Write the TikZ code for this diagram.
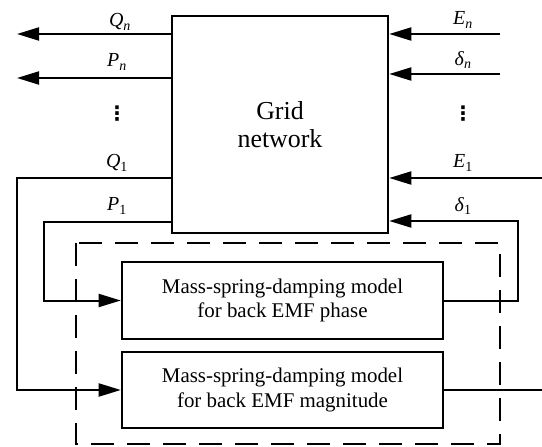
\documentclass[tikz,border=0pt]{standalone}
\usepackage{fontspec}
\setmainfont{Liberation Serif}
\newfontfamily\symfont{DejaVu Sans}
\usetikzlibrary{arrows.meta}

\tikzset{
  blk/.style={draw, line width=2.5bp, inner sep=0pt},
  sig/.style={line width=2bp, -{Triangle[length=22bp,width=13bp]}},
  fb/.style={line width=1.8bp},
  lbl/.style={font=\fontsize{20}{22}\selectfont, inner sep=0pt},
  dotsv/.style={font=\symfont\bfseries\fontsize{20}{22}\selectfont, inner sep=0pt},
  grp/.style={draw, line width=2.7bp, dash pattern=on 23bp off 13bp},
}
% italic symbol with a lowered index
\newcommand{\sig}[2]{\textit{#1}\textsubscript{#2}}

\begin{document}
\begin{tikzpicture}[x=1bp,y=-1bp]
\useasboundingbox (0,0) rectangle (542,447);

% grouping frame around the two models
\draw[grp] (76,243) rectangle (500,444);

% blocks
\node[blk, minimum width=216bp, minimum height=217bp,
      font=\fontsize{26}{28}\selectfont, align=center] (grid) at (280,124.5) {Grid\\network};
\node[blk, minimum width=321bp, minimum height=77bp,
      font=\fontsize{21}{25}\selectfont, align=center] (phase) at (282.5,300.5)
      {Mass-spring-damping model\\for back EMF phase};
\node[blk, minimum width=321bp, minimum height=76bp,
      font=\fontsize{21}{25}\selectfont, align=center] (mag) at (282.5,390)
      {Mass-spring-damping model\\for back EMF magnitude};

% free ends of the outer signals
\coordinate (qn) at (17,34);
\coordinate (pn) at (17,78);
\coordinate (en) at (500,34);
\coordinate (dn) at (500,74);
\coordinate (e1) at (542,178);
\coordinate (m1) at (542,390);

% outputs of the grid
\draw[sig] (grid.west |- qn) -- (qn);
\draw[sig] (grid.west |- pn) -- (pn);
% inputs to the grid
\draw[sig] (en) -- (grid.east |- en);
\draw[sig] (dn) -- (grid.east |- dn);
\draw[sig] (e1) -- (grid.east |- e1);

% feedback loops through the models
\draw[sig] (grid.west |- 0,178) -- (17,178) -- (17,390) -- (mag.west);
\draw[sig] (grid.west |- 0,222) -- (44,222) -- (44,300.5) -- (phase.west);
\draw[sig] (phase.east) -- (518,300.5) -- (518,221) -- (grid.east |- 0,221);
\draw[fb] (mag.east) -- (m1);

% signal labels
\node[lbl] (lqn) at (120,22) {\sig{Q}{\textit{n}}};
\node[lbl] (lpn) at (117,62) {\sig{P}{\textit{n}}};
\node[dotsv] (lvl) at (117,114) {⋮};
\node[lbl] (lq1) at (117,163) {\sig{Q}{1}};
\node[lbl] (lp1) at (117,206) {\sig{P}{1}};
\node[lbl] (len) at (463,20) {\sig{E}{\textit{n}}};
\node[lbl] (ldn) at (463,60) {\sig{δ}{\textit{n}}};
\node[dotsv] (lvr) at (463,114) {⋮};
\node[lbl] (le1) at (463,163) {\sig{E}{1}};
\node[lbl] (ld1) at (463,206) {\sig{δ}{1}};
\end{tikzpicture}
\end{document}
